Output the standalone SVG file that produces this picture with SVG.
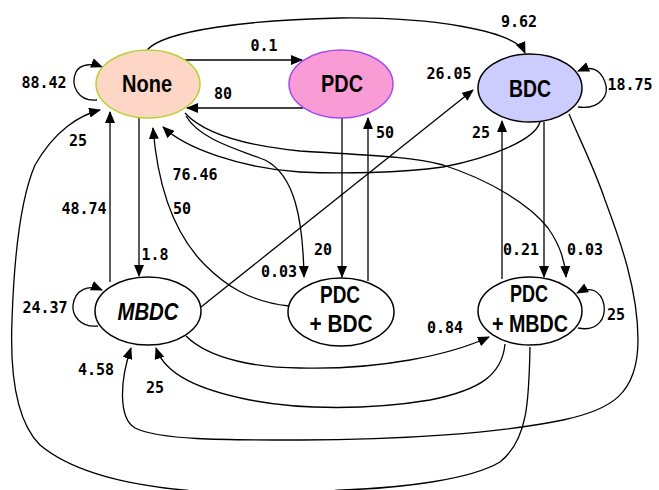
<svg xmlns="http://www.w3.org/2000/svg" width="659" height="490" viewBox="0 0 659 490">
<defs>
<marker id="ah" markerWidth="12" markerHeight="10" refX="11" refY="5" orient="auto" markerUnits="userSpaceOnUse">
<path d="M0,0 L12,5 L0,10 Z" fill="#000"/>
</marker>
<style>
.e{fill:none;stroke:#000;stroke-width:1.3;marker-end:url(#ah)}
.n{stroke-width:1.5}
.t{font-family:"Liberation Sans",Arial,sans-serif;font-weight:bold;font-size:24px;text-anchor:middle;fill:#000}
.l{font-family:"DejaVu Sans Mono","Liberation Mono",monospace;font-weight:bold;font-size:15px;text-anchor:middle;fill:#000}
</style>
</defs>
<rect width="659" height="490" fill="#fff"/>
<g id="connectors">
<path class="e" d="M183,60 L302,60"/>
<path class="e" d="M303,108 L187,108"/>
<path class="e" d="M97,100 C78,102 70,85 76,72 C80,64 92,63 102,67"/>
<path class="e" d="M147,50 C165,30 250,20 340,18 C430,17 515,30 525,53"/>
<path class="e" d="M578,107 C600,110 610,95 605,82 C600,68 590,66 578,71"/>
<path class="e" d="M201,307 L473,90"/>
<path class="e" d="M502,279 L502,121"/>
<path class="e" d="M368,281 L368,118"/>
<path class="e" d="M342,118 L342,277"/>
<path class="e" d="M544,122 L544,277"/>
<path class="e" d="M185,113 C205,135 250,146 300,151 C360,155 410,156 443,165 C490,180 530,205 548,228 C560,245 565,260 566,277"/>
<path class="e" d="M540,122 C535,140 490,158 443,167 C400,173 340,174 300,172 C240,168 185,148 163,127"/>
<path class="e" d="M186,116 C200,140 240,150 265,160 C295,175 303,220 304,277"/>
<path class="e" d="M289,306 C250,302 225,285 205,265 C175,235 158,190 153,128"/>
<path class="e" d="M139,118 L139,276"/>
<path class="e" d="M110,282 L110,112"/>
<path class="e" d="M530,347 C529,400 528,440 500,462 C470,480 400,488 343,490 C300,493 230,495 183,490 C120,484 70,470 40,445 C15,420 10,370 12,320 C14,260 20,200 35,165 C55,130 80,115 100,110"/>
<path class="e" d="M98,326 C80,328 72,315 73,305 C75,290 88,284 102,290"/>
<path class="e" d="M186,336 C210,360 260,368 300,368 C380,370 450,355 489,337"/>
<path class="e" d="M505,344 C502,375 480,390 430,400 C370,410 300,410 250,400 C200,390 165,375 156,348"/>
<path class="e" d="M569,114 C580,140 595,170 605,200 C620,240 638,290 638,340 C638,395 610,410 563,420 C500,433 400,440 300,440 C220,440 160,440 135,428 C118,418 120,380 131,348"/>
<path class="e" d="M578,328 C598,332 606,318 604,305 C601,290 590,286 577,293"/>
</g>
<g id="labels">
<text class="l" x="264" y="51">0.1</text>
<text class="l" x="223" y="99">80</text>
<text class="l" x="44" y="88">88.42</text>
<text class="l" x="78" y="146">25</text>
<text class="l" x="195" y="180">76.46</text>
<text class="l" x="519" y="27">9.62</text>
<text class="l" x="449" y="79">26.05</text>
<text class="l" x="630" y="90">18.75</text>
<text class="l" x="385" y="138">50</text>
<text class="l" x="481" y="138">25</text>
<text class="l" x="84" y="214">48.74</text>
<text class="l" x="182" y="214">50</text>
<text class="l" x="155" y="260">1.8</text>
<text class="l" x="323" y="255">20</text>
<text class="l" x="279" y="277">0.03</text>
<text class="l" x="521" y="255">0.21</text>
<text class="l" x="585" y="255">0.03</text>
<text class="l" x="45" y="313">24.37</text>
<text class="l" x="96" y="375">4.58</text>
<text class="l" x="155" y="393">25</text>
<text class="l" x="445" y="333">0.84</text>
<text class="l" x="616" y="320">25</text>
</g>
<g id="node-none">
<ellipse class="n" cx="148" cy="84" rx="52" ry="34" fill="#fdd6c6" stroke="#b6d232"/>
<text class="t" x="147" y="92" textLength="50" lengthAdjust="spacingAndGlyphs">None</text>
</g>
<g id="node-pdc">
<ellipse class="n" cx="341" cy="84" rx="52" ry="34" fill="#f99bd4" stroke="#a24cf0"/>
<text class="t" x="342" y="92" textLength="42" lengthAdjust="spacingAndGlyphs">PDC</text>
</g>
<g id="node-bdc">
<ellipse class="n" cx="530" cy="88" rx="52" ry="34" fill="#ccccff" stroke="#000"/>
<text class="t" x="530" y="97" textLength="42" lengthAdjust="spacingAndGlyphs">BDC</text>
</g>
<g id="node-mbdc">
<ellipse class="n" cx="148" cy="311" rx="53" ry="34" fill="#fff" stroke="#000"/>
<text class="t" x="148" y="320" textLength="61" lengthAdjust="spacingAndGlyphs" font-style="italic">MBDC</text>
</g>
<g id="node-pdc-bdc">
<ellipse class="n" cx="341" cy="312" rx="53" ry="34" fill="#fff" stroke="#000"/>
<text class="t" x="340" y="303" textLength="40" lengthAdjust="spacingAndGlyphs">PDC</text>
<text class="t" x="341" y="332" textLength="63" lengthAdjust="spacingAndGlyphs">+ BDC</text>
</g>
<g id="node-pdc-mbdc">
<ellipse class="n" cx="530" cy="311" rx="52" ry="34" fill="#fff" stroke="#000"/>
<text class="t" x="529" y="302" textLength="38" lengthAdjust="spacingAndGlyphs">PDC</text>
<text class="t" x="530" y="332" textLength="76" lengthAdjust="spacingAndGlyphs">+ MBDC</text>
</g>
</svg>
